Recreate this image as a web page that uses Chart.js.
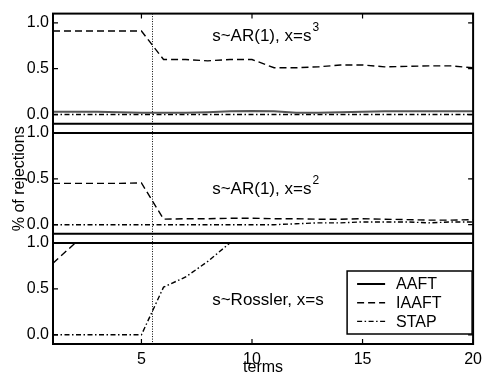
<!DOCTYPE html>
<html>
<head>
<meta charset="utf-8">
<script src="https://cdn.jsdelivr.net/npm/chart.js@4.4.1/dist/chart.umd.min.js"></script>
<style>
  html, body { margin: 0; padding: 0; background: #fff; }
  #wrap { width: 488px; height: 388px; }
</style>
</head>
<body>
<div id="wrap"><canvas id="grafica"></canvas></div>
<script>
//Datos
const terms = [1, 2, 3, 4, 5, 6, 7, 8, 9, 10, 11, 12, 13, 14, 15, 16, 17, 18, 19, 20];
const seriesNames = ["AAFT", "IAAFT", "STAP"];
const panelNames = ["s~AR(1), x=s", "s~AR(1), x=s", "s~Rossler, x=s"];
const panelSup = ["3", "2", ""];

//s~AR(1), x=s^3
const ar3Aaft = [0.03, 0.03, 0.03, 0.025, 0.02, 0.02, 0.02, 0.025, 0.035, 0.04, 0.035, 0.02, 0.02, 0.025, 0.03, 0.035, 0.035, 0.035, 0.035, 0.035];
const ar3Iaaft = [0.91, 0.91, 0.91, 0.91, 0.91, 0.60, 0.60, 0.585, 0.60, 0.60, 0.51, 0.51, 0.52, 0.54, 0.54, 0.52, 0.525, 0.53, 0.53, 0.51];
const ar3Stap = [0, 0, 0, 0, 0, 0, 0, 0, 0, 0, 0, 0, 0, 0, 0, 0, 0, 0, 0, 0];

//s~AR(1), x=s^2
const ar2Aaft = [1, 1, 1, 1, 1, 1, 1, 1, 1, 1, 1, 1, 1, 1, 1, 1, 1, 1, 1, 1];
const ar2Iaaft = [0.45, 0.45, 0.45, 0.45, 0.455, 0.06, 0.065, 0.065, 0.07, 0.07, 0.065, 0.065, 0.06, 0.06, 0.065, 0.06, 0.055, 0.05, 0.05, 0.055];
const ar2Stap = [0, 0, 0, 0, 0, 0, 0, 0, 0, 0, 0, 0.01, 0.02, 0.02, 0.03, 0.03, 0.03, 0.02, 0.03, 0.03];

//s~Rossler, x=s
const rosAaft = [1, 1, 1, 1, 1, 1, 1, 1, 1, 1, 1, 1, 1, 1, 1, 1, 1, 1, 1, 1];
const rosIaaft = [0.78, 1, 1, 1, 1, 1, 1, 1, 1, 1, 1, 1, 1, 1, 1, 1, 1, 1, 1, 1];
const rosStap = [0, 0, 0, 0, 0, 0.52, 0.63, 0.8, 1, 1, 1, 1, 1, 1, 1, 1, 1, 1, 1, 1];

const yTicks = [0, 0.5, 1];
const xTicks = [5, 10, 15, 20];
const cutTerm = 5.5;

const panels = [
  [ar3Aaft, ar3Iaaft, ar3Stap],
  [ar2Aaft, ar2Iaaft, ar2Stap],
  [rosAaft, rosIaaft, rosStap],
];
const panelIds = ["y1", "y2", "y3"];
//posicion del texto de cada panel (en unidades de datos)
const notePos = [[8.2, 0.80], [8.2, 0.33], [8.2, 0.33]];

const fuente = "'Liberation Sans', Arial, sans-serif";
const dashes = [[], [7, 4], [5, 2.5, 1.5, 2.5]];

let datasets = [];
panels.forEach((panel, p) => {
  panel.forEach((vals, k) => {
    datasets.push({
      label: seriesNames[k],
      data: terms.map((t, i) => ({ x: t, y: vals[i] })),
      yAxisID: panelIds[p],
      borderColor: p == 0 && k == 0 ? "#555" : "#000",
      borderWidth: k == 0 ? 2 : 1.4,
      borderDash: dashes[k],
      pointRadius: 0,
      tension: 0,
      fill: false,
    });
  });
});

function yAxis(id, weight, conTitulo) {
  return {
    type: "linear",
    position: "left",
    stack: "paneles",
    stackWeight: 1,
    weight: weight,
    min: -0.1,
    max: 1.1,
    grid: { display: false, drawTicks: false },
    border: { display: false },
    afterBuildTicks: (s) => { s.ticks = yTicks.map((v) => ({ value: v })); },
    afterFit: (s) => { s.width = 53; },
    ticks: {
      padding: 4,
      color: "#000",
      font: { family: fuente, size: 16 },
      callback: (v) => Number(v).toFixed(1),
    },
    title: {
      display: conTitulo,
      text: "% of rejections",
      color: "#000",
      font: { family: fuente, size: 16 },
      padding: { top: 10, bottom: 0 },
    },
  };
}

//Marco, marcas internas, linea vertical, textos y leyenda
const marco = {
  id: "marco",
  afterDatasetsDraw(chart) {
    const { ctx, chartArea: a, scales } = chart;
    const xs = scales.x;
    ctx.save();

    //linea punteada vertical
    const cx = xs.getPixelForValue(cutTerm);
    ctx.strokeStyle = "#000";
    ctx.lineWidth = 1;
    ctx.setLineDash([1, 1.5]);
    ctx.beginPath();
    ctx.moveTo(cx, a.top);
    ctx.lineTo(cx, a.bottom);
    ctx.stroke();
    ctx.setLineDash([]);

    ctx.strokeStyle = "#000";
    ctx.lineWidth = 2;
    ctx.strokeRect(a.left, a.top, a.right - a.left, a.bottom - a.top);

    ctx.lineWidth = 1.2;
    ctx.beginPath();
    panelIds.forEach((id) => {
      const s = scales[id];
      yTicks.forEach((v) => {
        const py = s.getPixelForValue(v);
        ctx.moveTo(a.left, py);
        ctx.lineTo(a.left + 5, py);
        ctx.moveTo(a.right, py);
        ctx.lineTo(a.right - 5, py);
      });
    });
    xTicks.forEach((v) => {
      const px = xs.getPixelForValue(v);
      ctx.moveTo(px, a.top);
      ctx.lineTo(px, a.top + 5);
      ctx.moveTo(px, a.bottom);
      ctx.lineTo(px, a.bottom - 5);
    });
    ctx.stroke();
    ctx.lineWidth = 2;
    ctx.beginPath();
    panelIds.slice(0, -1).forEach((id) => {
      const s = scales[id];
      ctx.moveTo(a.left, s.bottom);
      ctx.lineTo(a.right, s.bottom);
    });
    ctx.stroke();

    //textos de los paneles
    ctx.fillStyle = "#000";
    ctx.textAlign = "left";
    ctx.textBaseline = "alphabetic";
    panelIds.forEach((id, p) => {
      const tx = xs.getPixelForValue(notePos[p][0]);
      const ty = scales[id].getPixelForValue(notePos[p][1]);
      ctx.font = "17px " + fuente;
      ctx.fillText(panelNames[p], tx, ty);
      if (panelSup[p]) {
        const w = ctx.measureText(panelNames[p]).width;
        ctx.font = "12px " + fuente;
        ctx.fillText(panelSup[p], tx + w + 1, ty - 10);
      }
    });

    //leyenda
    const lw = 125, lh = 63;
    const lx = a.right - lw - 1;
    const ly = a.bottom - lh - 10;
    ctx.fillStyle = "#fff";
    ctx.fillRect(lx, ly, lw, lh);
    ctx.strokeStyle = "#000";
    ctx.lineWidth = 1.5;
    ctx.strokeRect(lx, ly, lw, lh);
    ctx.font = "16px " + fuente;
    ctx.textBaseline = "middle";
    seriesNames.forEach((name, k) => {
      const ry = ly + 13 + k * 18.7;
      ctx.beginPath();
      ctx.setLineDash(dashes[k]);
      ctx.lineWidth = k == 0 ? 2 : 1.4;
      ctx.moveTo(lx + 10, ry);
      ctx.lineTo(lx + 38, ry);
      ctx.stroke();
      ctx.setLineDash([]);
      ctx.fillStyle = "#000";
      ctx.fillText(name, lx + 49, ry + 1);
    });
    ctx.restore();
  },
};

window.addEventListener("load", () => {
  const ctx = document.getElementById("grafica").getContext("2d");
  const myChart = new Chart(ctx, {
    type: "line",
    data: { datasets: datasets },
    options: {
      responsive: true,
      maintainAspectRatio: false,
      animation: false,
      layout: { padding: { top: 7, right: 6, left: 0, bottom: 0 } },
      plugins: {
        legend: { display: false },
        tooltip: { enabled: false },
      },
      scales: {
        x: {
          type: "linear",
          min: 1,
          max: 20,
          grid: { display: false, drawTicks: false },
          border: { display: false },
          afterBuildTicks: (s) => { s.ticks = xTicks.map((v) => ({ value: v })); },
          afterFit: (s) => { s.height = 44; },
          ticks: {
            padding: 6,
            color: "#000",
            maxRotation: 0,
            font: { family: fuente, size: 16 },
          },
          title: {
            display: true,
            text: "terms",
            color: "#000",
            font: { family: fuente, size: 16 },
            padding: { top: 0, bottom: 11 },
          },
        },
        y1: yAxis("y1", 3, false),
        y2: yAxis("y2", 2, true),
        y3: yAxis("y3", 1, false),
      },
    },
    plugins: [marco],
  });
});
</script>
</body>
</html>
